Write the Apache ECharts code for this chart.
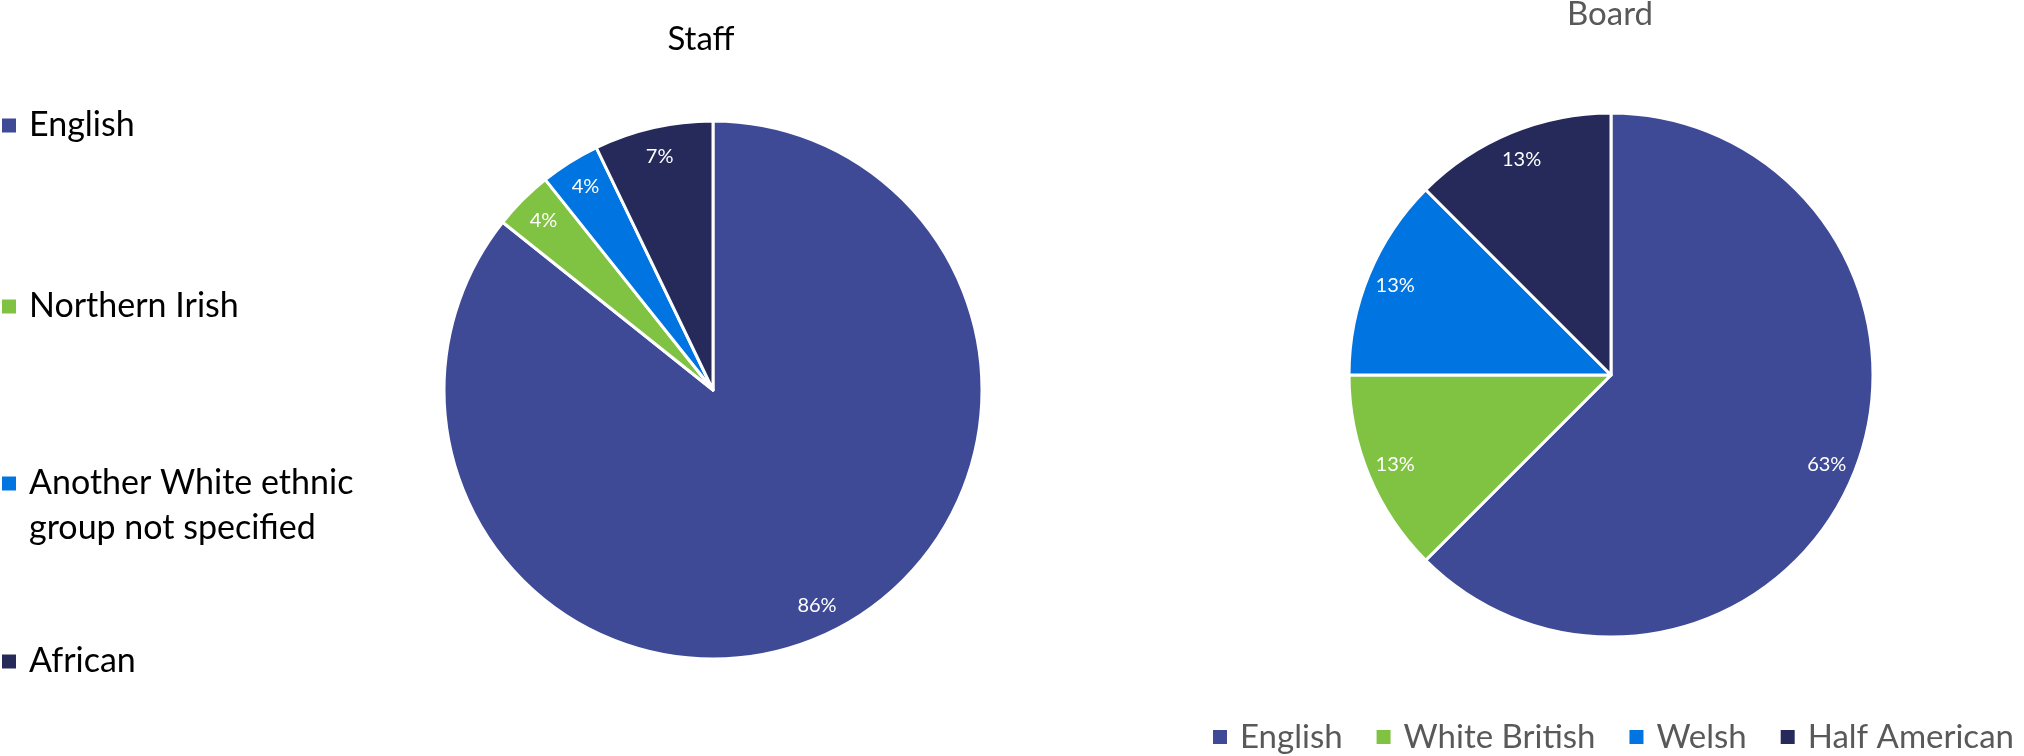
<!DOCTYPE html>
<html>
<head>
<meta charset="utf-8">
<script src="https://cdn.jsdelivr.net/npm/echarts@6/dist/echarts.min.js"></script>
<style>
  html, body { margin: 0; padding: 0; background: #fff; }
  #chart { width: 2024px; height: 756px; }
</style>
</head>
<body>
<div id="chart"></div>
<script>
// --- data ---
const staffNames = ['English', 'Northern Irish', 'Another White ethnic group not specified', 'African'];
const staffCounts = [24, 1, 1, 2];
const boardNames = ['English', 'White British', 'Welsh', 'Half American'];
const boardCounts = [5, 1, 1, 1];
const sliceColors = ['#3E4A95', '#80C242', '#0074E0', '#262A5A'];

const FONT = 'Lato';
const chart = echarts.init(document.getElementById('chart'));

function toData(names, counts) {
    return names.map((n, i) => ({ name: n, value: counts[i], itemStyle: { color: sliceColors[i] } }));
}

// rounded percent label (each slice rounded on its own, like the source)
function pctLabel(counts) {
    const total = counts.reduce((a, b) => a + b, 0);
    return p => Math.round(p.value / total * 100) + '%';
}

function pieSeries(center, r, names, counts) {
    return [{
        type: 'pie',
        center: center,
        radius: [0, r],
        startAngle: 90,
        clockwise: true,
        data: toData(names, counts),
        label: { show: false },
        labelLine: { show: false },
        itemStyle: { borderColor: '#fff', borderWidth: 3 },
        emphasis: { disabled: true },
        animation: false
    }, {
        // transparent ring, only used to put the labels near the rim
        type: 'pie',
        center: center,
        radius: [r * 0.76, r],
        startAngle: 90,
        silent: true,
        data: toData(names, counts).map(d => ({ ...d, itemStyle: { color: 'rgba(0,0,0,0)' } })),
        itemStyle: { borderWidth: 0 },
        label: {
            show: true,
            position: 'inside',
            formatter: pctLabel(counts),
            color: '#fff',
            fontFamily: FONT,
            fontSize: 20
        },
        labelLine: { show: false },
        emphasis: { disabled: true },
        animation: false
    }];
}

// left legend: one block per item so the spacing matches
const leftTops = [125, 306, 483, 661];
const leftLegends = staffNames.map((n, i) => {
    const twoLine = i === 2;
    return {
        orient: 'vertical',
        left: 0,
        // the two-line item gets a blank first line so its first text line sits on the square
        top: twoLine ? leftTops[i] - 67 : leftTops[i] - 22,
        padding: 0,
        icon: 'rect',
        itemWidth: 16,
        itemHeight: 16,
        selectedMode: false,
        data: [n],
        formatter: twoLine ? '\nAnother White ethnic\ngroup not specified' : '{name}',
        textStyle: {
            color: '#000',
            fontFamily: FONT,
            fontSize: 34,
            lineHeight: 45,
            padding: [0, 0, 0, 7]
        }
    };
});

const option = {
    backgroundColor: '#fff',
    title: [{
        text: 'Staff',
        left: 701,
        top: 23,
        textAlign: 'center',
        padding: 0,
        textStyle: { color: '#000', fontFamily: FONT, fontSize: 33, fontWeight: 'normal' }
    }, {
        text: 'Board',
        left: 1610,
        top: -2,
        textAlign: 'center',
        padding: 0,
        textStyle: { color: '#595959', fontFamily: FONT, fontSize: 33, fontWeight: 'normal' }
    }],
    legend: leftLegends.concat([{
        orient: 'horizontal',
        left: 1211,
        top: 717,
        width: 1000,   // keep on one row; the last item runs off the edge like the source
        padding: 0,
        icon: 'rect',
        itemWidth: 16,
        itemHeight: 16,
        itemGap: 32,
        selectedMode: false,
        data: boardNames,
        textStyle: {
            color: '#595959',
            fontFamily: FONT,
            fontSize: 33,
            lineHeight: 40,
            padding: [0, 0, 0, 7]
        }
    }]),
    series: pieSeries([713, 390], 269, staffNames, staffCounts)
        .concat(pieSeries([1611, 375], 262, boardNames, boardCounts))
};

chart.setOption(option);
</script>
</body>
</html>
